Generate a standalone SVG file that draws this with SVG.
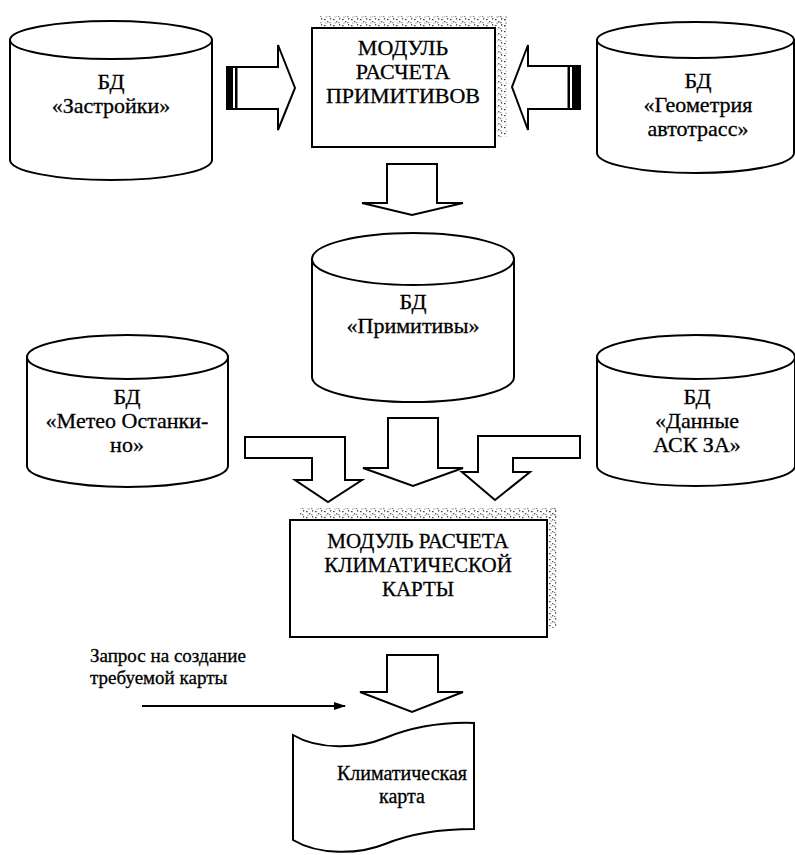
<svg xmlns="http://www.w3.org/2000/svg" width="795" height="855" viewBox="0 0 795 855">
<defs>
<style>
.s{fill:#fff;stroke:#000;stroke-width:2;stroke-linejoin:miter}
.t{font-family:"Liberation Serif","Times New Roman",serif;font-size:22px;fill:#000;text-anchor:middle;stroke:#000;stroke-width:0.3}
.m{font-size:21px}
.b{fill:#000}
.st{fill:url(#speck)}
</style>
<pattern id="speck" width="9" height="6" patternUnits="userSpaceOnUse">
<rect x="0" y="1" width="1.6" height="1.2" fill="#444"/>
<rect x="3" y="3" width="1.4" height="1.4" fill="#666"/>
<rect x="6" y="0" width="1.2" height="1.6" fill="#555"/>
<rect x="5" y="4.2" width="1.5" height="1" fill="#777"/>
<rect x="1.5" y="4.5" width="1" height="1.2" fill="#888"/>
</pattern>
<marker id="ah" markerWidth="12" markerHeight="8" refX="11" refY="4" orient="auto" markerUnits="userSpaceOnUse">
<path d="M0,0 L12,4 L0,8 Z" fill="#000"/>
</marker>
</defs>
<rect width="795" height="855" fill="#fff"/>

<g id="db-zastroyki">
<path class="s" d="M10,40 L10,160 A101,20 0 0 0 212,160 L212,40 Z"/>
<ellipse class="s" cx="111" cy="40" rx="101" ry="19"/>
<text class="t" x="111" y="89">БД</text>
<text class="t" x="111" y="113">«Застройки»</text>
</g>

<g id="module-primitives">
<rect class="st" x="320" y="16" width="187" height="11"/>
<rect class="st" x="497" y="16" width="10" height="121"/>
<rect class="s" x="312" y="28" width="183" height="119"/>
<text class="t" x="403" y="55">МОДУЛЬ</text>
<text class="t" x="403" y="79">РАСЧЕТА</text>
<text class="t" x="403" y="103">ПРИМИТИВОВ</text>
</g>

<g id="db-geometry">
<path class="s" d="M597,40 L597,153 A98.5,20 0 0 0 794,153 L794,40 Z"/>
<ellipse class="s" cx="695.5" cy="40" rx="98.5" ry="18"/>
<text class="t" x="698" y="88">БД</text>
<text class="t" x="698" y="112">«Геометрия</text>
<text class="t" x="698" y="136">автотрасс»</text>
</g>

<g id="db-primitives">
<path class="s" d="M312,259 L312,377 A101,25 0 0 0 514,377 L514,259 Z"/>
<ellipse class="s" cx="413" cy="259" rx="101" ry="26"/>
<text class="t" x="413" y="309">БД</text>
<text class="t" x="413" y="333">«Примитивы»</text>
</g>

<g id="db-meteo">
<path class="s" d="M27,357 L27,466 A100.5,21 0 0 0 228,466 L228,357 Z"/>
<ellipse class="s" cx="127.5" cy="357" rx="100.5" ry="22"/>
<text class="t" x="127" y="404">БД</text>
<text class="t" x="127" y="428">«Метео Останки-</text>
<text class="t" x="127" y="452">но»</text>
</g>

<g id="db-ask">
<path class="s" d="M597,357 L597,466 A99,20 0 0 0 795,466 L795,357 Z"/>
<ellipse class="s" cx="696" cy="357" rx="99" ry="22"/>
<text class="t" x="697" y="404">БД</text>
<text class="t" x="697" y="428">«Данные</text>
<text class="t" x="697" y="452">АСК ЗА»</text>
</g>

<g id="module-climate">
<rect class="st" x="300" y="508" width="258" height="11"/>
<rect class="st" x="548" y="508" width="10" height="120"/>
<rect class="s" x="290" y="520" width="257" height="117"/>
<text class="t m" x="418" y="548">МОДУЛЬ РАСЧЕТА</text>
<text class="t m" x="418" y="572">КЛИМАТИЧЕСКОЙ</text>
<text class="t m" x="418" y="596">КАРТЫ</text>
</g>

<g id="climate-map">
<path class="s" d="M293,735 C318,750 358,749 385,738 C412,727 442,722 474,723 L474,829 C442,829 412,833 385,844 C358,855 318,855 293,840 Z"/>
<text class="t" x="402" y="780" style="font-size:20px">Климатическая</text>
<text class="t" x="402" y="803" style="font-size:20px">карта</text>
</g>

<g id="request-label">
<text class="t" x="90" y="662" style="text-anchor:start;font-size:19px">Запрос на создание</text>
<text class="t" x="90" y="684" style="text-anchor:start;font-size:19px">требуемой карты</text>
</g>

<g id="connectors">
<path class="s" d="M227,67 L278,67 L278,45 L295,88 L278,130 L278,109 L227,109 Z"/>
<rect class="b" x="227" y="67" width="6" height="42"/>
<rect class="b" x="235" y="67" width="2.5" height="42"/>

<path class="s" d="M580,66 L528,66 L528,45 L512,87 L528,130 L528,109 L580,109 Z"/>
<rect class="b" x="572" y="66" width="8" height="43"/>
<rect class="b" x="567.5" y="66" width="2.5" height="43"/>

<path class="s" d="M387,164 L437,164 L437,203 L463,203 L412,215 L362,203 L387,203 Z"/>

<path class="s" d="M245,437 L345,437 L345,480 L362,480 L328,502 L295,480 L312,480 L312,458 L245,458 Z"/>
<path class="s" d="M388,418 L438,418 L438,468 L463,468 L413,486 L363,468 L388,468 Z"/>
<path class="s" d="M580,436 L478,436 L478,472 L462,472 L495,500 L530,472 L513,472 L513,458 L580,458 Z"/>

<path class="s" d="M387,655 L438,655 L438,692 L463,692 L412,712 L360,692 L387,692 Z"/>

<line x1="142" y1="706" x2="345" y2="706" stroke="#000" stroke-width="2" marker-end="url(#ah)"/>
</g>
</svg>
